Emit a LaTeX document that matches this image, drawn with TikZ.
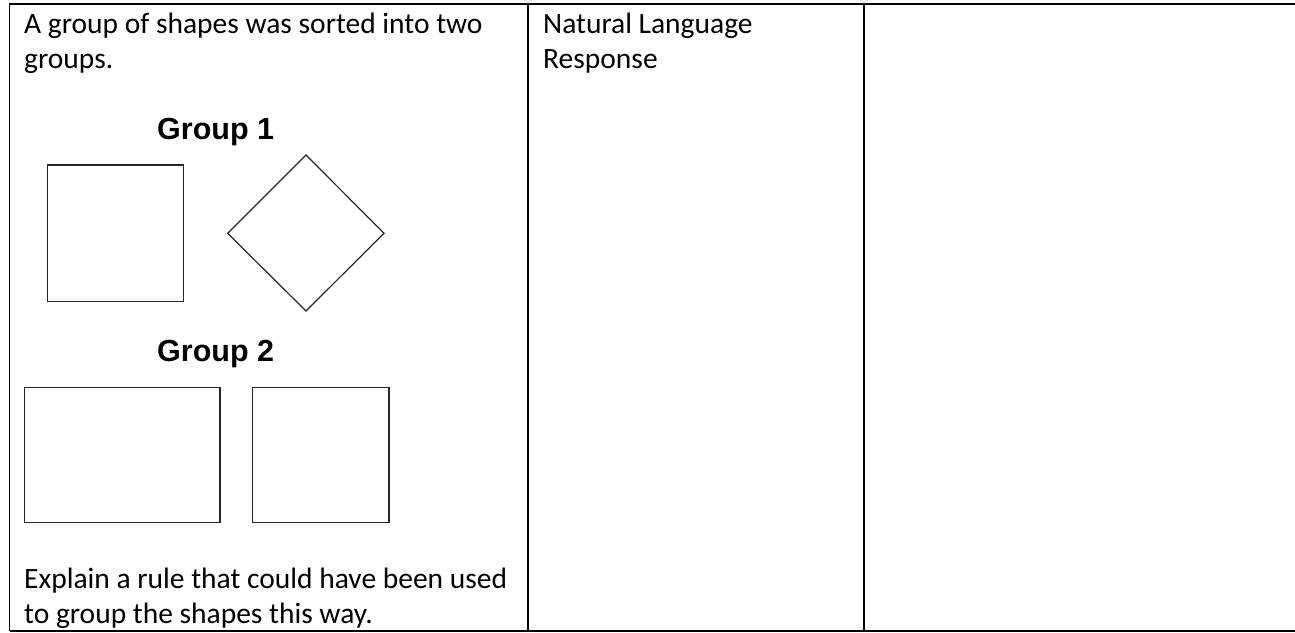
\documentclass[tikz,border=0pt]{standalone}
\usepackage{fontspec}
\setmainfont{Carlito}
\newfontfamily\grpfont{Liberation Sans}
\begin{document}
\begin{tikzpicture}[x=1pt,y=-1pt,
  txt/.style={anchor=base west,inner sep=0pt,font=\fontsize{29.5}{35.4}\selectfont},
  grp/.style={anchor=base west,inner sep=0pt,font=\grpfont\bfseries\fontsize{30.5}{36}\selectfont},
  rule/.style={line width=1.7pt,black},
  shp/.style={line width=1.2pt,draw=black!85}]
\useasboundingbox (0,0) rectangle (1295,632);
% table
\draw[rule] (9.5,631) -- (9.5,4) -- (1300,4);
\draw[rule] (9.5,631) -- (1300,631);
\draw[rule] (528,4) -- (528,631);
\draw[rule] (864,4) -- (864,631);
% column 1 text
\node[txt] (q1) at (24,33) {A group of shapes was sorted into two};
\node[txt] (q2) at (24,68.4) {groups.};
\node[grp] (g1) at (157,139.3) {Group 1};
\node[grp] (g2) at (157,361.7) {Group 2};
% group 1 shapes
\draw[shp] (47.3,165) rectangle (183.7,301.5);
\draw[shp] (306,155) -- (384,233.3) -- (306,311) -- (227.7,233.3) -- cycle;
% group 2 shapes
\draw[shp] (24.3,387.3) rectangle (220,522.7);
\draw[shp] (252.3,387.3) rectangle (389,522.7);
\node[txt] (e1) at (24,588.5) {Explain a rule that could have been used};
\node[txt] (e2) at (24,623.5) {to group the shapes this way.};
% column 2 text
\node[txt] (n1) at (543,33) {Natural Language};
\node[txt] (n2) at (543,68.4) {Response};
\end{tikzpicture}
\end{document}
